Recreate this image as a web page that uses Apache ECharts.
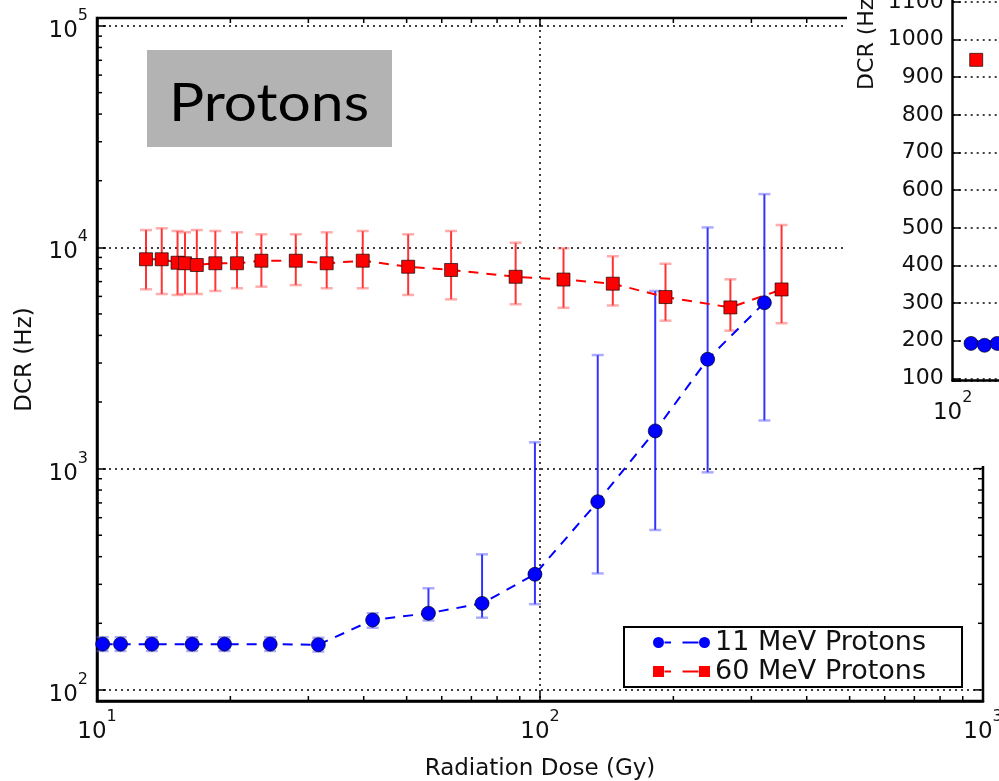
<!DOCTYPE html>
<html><head><meta charset="utf-8">
<script src="https://cdn.jsdelivr.net/npm/echarts@6/dist/echarts.min.js"></script>
<style>html,body{margin:0;padding:0;background:#fff}#c{width:999px;height:781px}</style>
</head><body><div id="c"></div>
<script>
// ---- data ----
const dose11 = [10.3, 11.3, 13.3, 16.4, 19.4, 24.6, 31.6, 41.9, 56.0, 74.0, 97.4, 135, 182, 239, 321];
const dcr11  = [161, 161, 161, 161, 161, 161, 160, 207, 222, 246, 333, 709, 1480, 3120, 5620];
const hi11   = [173, 173, 173, 173, 173, 173, 172, 222, 288, 410, 1315, 3260, 6350, 12300, 17400];
const lo11   = [150, 150, 150, 150, 150, 150, 149, 191, 206, 212, 244, 336, 528, 962, 1650];

const dose60 = [12.9, 14.0, 15.2, 15.8, 16.8, 18.5, 20.7, 23.5, 28.1, 33.0, 39.8, 50.4, 63.0, 88.1, 113, 146, 192, 269, 351];
const dcr60  = [8830, 8830, 8520, 8470, 8320, 8470, 8470, 8700, 8700, 8470, 8700, 8170, 7900, 7360, 7150, 6850, 5960, 5350, 6450];
const hi60   = [11970, 12190, 11850, 11690, 11970, 11850, 11690, 11450, 11450, 11690, 11850, 11450, 11850, 10490, 9900, 9110, 8430, 7170, 12610];
const lo60   = [6460, 6150, 6090, 6150, 6150, 6350, 6530, 6640, 6750, 6530, 6530, 6090, 5820, 5530, 5330, 5460, 4660, 4200, 4540];

// inset (partly visible)
const insetDose11 = [110, 118, 126];
const insetDcr11  = [193, 188, 193];
const insetDose60 = [113];
const insetDcr60  = [946];

// tick values
const xMajor = [10, 100, 1000];
const yMajor = [100, 1000, 10000, 100000];
const xMinor = [20, 30, 40, 50, 60, 70, 80, 90, 200, 300, 400, 500, 600, 700, 800, 900];
const yMinor = [200, 300, 400, 500, 600, 700, 800, 900, 2000, 3000, 4000, 5000, 6000, 7000, 8000, 9000, 20000, 30000, 40000, 50000, 60000, 70000, 80000, 90000];

const name11 = '11 MeV Protons';
const name60 = '60 MeV Protons';

// ---- helpers ----
const FONT = 'DejaVu Sans';
function powFmt(v) {
  const l = Math.log10(v); const e = Math.round(l);
  if (Math.abs(l - e) > 1e-6) return '';
  return '{a|10}{s|' + e + '}';
}
const richPow = {
  a: {fontFamily: FONT, fontSize: 23, color: '#111'},
  s: {fontFamily: FONT, fontSize: 16, color: '#111', padding: [0, 0, 30, 0]}
};
function errRender(color, capColor) {
  return function (params, api) {
    const x = api.value(0);
    const p1 = api.coord([x, api.value(1)]);
    const p2 = api.coord([x, api.value(2)]);
    const cw = 6;
    return {type: 'group', children: [
      {type: 'line', shape: {x1: p1[0], y1: p1[1], x2: p2[0], y2: p2[1]}, style: {stroke: color, lineWidth: 2}},
      {type: 'line', shape: {x1: p1[0] - cw, y1: p1[1], x2: p1[0] + cw, y2: p1[1]}, style: {stroke: capColor, lineWidth: 2.5}},
      {type: 'line', shape: {x1: p2[0] - cw, y1: p2[1], x2: p2[0] + cw, y2: p2[1]}, style: {stroke: capColor, lineWidth: 2.5}}
    ]};
  };
}
function tickRender(params, api) {
  const cs = params.coordSys;
  const L = cs.x, T = cs.y, R = cs.x + cs.width, B = cs.y + cs.height;
  const ch = [];
  const st = {stroke: '#000', lineWidth: 1.5};
  xMinor.forEach(v => {
    const px = api.coord([v, 1000])[0];
    ch.push({type: 'line', shape: {x1: px, y1: B, x2: px, y2: B - 5}, style: st});
    ch.push({type: 'line', shape: {x1: px, y1: T, x2: px, y2: T + 5}, style: st});
  });
  xMajor.forEach(v => {
    const px = api.coord([v, 1000])[0];
    ch.push({type: 'line', shape: {x1: px, y1: T, x2: px, y2: T + 9}, style: st});
  });
  yMinor.forEach(v => {
    const py = api.coord([100, v])[1];
    ch.push({type: 'line', shape: {x1: L, y1: py, x2: L + 5, y2: py}, style: st});
    ch.push({type: 'line', shape: {x1: R, y1: py, x2: R - 5, y2: py}, style: st});
  });
  yMajor.forEach(v => {
    const py = api.coord([100, v])[1];
    ch.push({type: 'line', shape: {x1: R, y1: py, x2: R - 9, y2: py}, style: st});
  });
  return {type: 'group', children: ch};
}

const circIcon = 'path://M0,5.5A5.5,5.5 0 1,1 11,5.5A5.5,5.5 0 1,1 0,5.5Z M11.5,4.5H18V6.5H11.5Z M29.5,4.5H45.5V6.5H29.5Z M46,5.5A5.5,5.5 0 1,1 57,5.5A5.5,5.5 0 1,1 46,5.5Z';
const sqIcon = 'path://M0,0H11V11H0Z M11.5,4.5H18V6.5H11.5Z M29.5,4.5H45.5V6.5H29.5Z M46,0H57V11H46Z';

const chart = echarts.init(document.getElementById('c'));
chart.setOption({
  animation: false,
  backgroundColor: '#fff',
  grid: [
    {left: 97, top: 18, width: 886, height: 683, show: true, backgroundColor: '#fff', borderColor: '#000', borderWidth: 2.5,
     containLabel: false, outerBoundsMode: 'none'},
    {left: 952.7, top: -17, width: 443, height: 397.7, show: false, containLabel: false, outerBoundsMode: 'none'}
  ],
  xAxis: [
    {type: 'log', logBase: 10, min: 10, max: 1000, gridIndex: 0,
     axisLine: {onZero: false, lineStyle: {color: '#000', width: 2.5}},
     axisTick: {inside: true, length: 9, lineStyle: {color: '#000', width: 1.5}},
     axisLabel: {margin: 8, formatter: powFmt, rich: richPow},
     splitLine: {show: true, lineStyle: {color: '#000', type: [2, 4], width: 1.5}},
     name: 'Radiation Dose (Gy)', nameLocation: 'middle', nameGap: 57,
     nameTextStyle: {fontFamily: FONT, fontSize: 23, color: '#111'}},
    {type: 'log', logBase: 10, min: 100, max: 1000, gridIndex: 1, z: 11,
     axisLine: {onZero: false, lineStyle: {color: '#000', width: 2.5}},
     axisTick: {show: false},
     axisLabel: {margin: 9, formatter: powFmt, rich: richPow},
     splitLine: {show: false}}
  ],
  yAxis: [
    {type: 'log', logBase: 10, min: 89.1, max: 108700, gridIndex: 0,
     axisLine: {onZero: false, lineStyle: {color: '#000', width: 2.5}},
     axisTick: {inside: true, length: 9, lineStyle: {color: '#000', width: 1.5}},
     axisLabel: {margin: 9, formatter: powFmt, rich: richPow, padding: [10, 0, 0, 0]},
     splitLine: {show: true, lineStyle: {color: '#000', type: [2, 4], width: 1.5}},
     name: 'DCR (Hz)', nameLocation: 'middle', nameGap: 60,
     nameTextStyle: {fontFamily: FONT, fontSize: 23, color: '#111'}},
    {type: 'value', min: 94, max: 1150, splitNumber: 10, minInterval: 100, maxInterval: 100, gridIndex: 1, z: 11,
     axisLine: {onZero: false, lineStyle: {color: '#000', width: 2.5}},
     axisTick: {inside: true, length: 8, lineStyle: {color: '#000', width: 1.5}},
     axisLabel: {margin: 9, fontFamily: FONT, fontSize: 22, color: '#111',
                 formatter: v => (Math.abs(v % 100) < 1e-6 ? String(v) : '')},
     splitLine: {show: true, lineStyle: {color: '#000', type: [2, 4], width: 1.5}}}
  ],
  legend: {
    orient: 'vertical', left: 624, top: 627, padding: [2, 36, 2, 29], itemGap: 2,
    itemWidth: 57, itemHeight: 11, backgroundColor: '#fff', borderColor: '#000', borderWidth: 2, borderRadius: 0,
    selectedMode: false, z: 6,
    textStyle: {fontFamily: FONT, fontSize: 27, color: '#111', lineHeight: 27},
    itemStyle: {borderWidth: 0},
    data: [{name: name11, icon: circIcon}, {name: name60, icon: sqIcon}]
  },
  graphic: [
    {type: 'rect', shape: {x: 147, y: 50, width: 245, height: 97}, style: {fill: '#b3b3b3'}, z: 5},
    {type: 'text', x: 269, y: 104, z: 6, scaleX: 1.13,
     style: {text: 'Protons', font: '52px Lato', fill: '#000', textAlign: 'center', textVerticalAlign: 'middle'}},
    {type: 'rect', shape: {x: 847, y: 0, width: 152, height: 466}, style: {fill: '#fff'}, z: 10},
    {type: 'text', x: 867.5, y: 40, rotation: Math.PI / 2, z: 12,
     style: {text: 'DCR (Hz)', font: '22px "DejaVu Sans"', fill: '#111', textAlign: 'center', textVerticalAlign: 'middle'}}
  ],
  series: [
    {type: 'custom', name: 'ticks', xAxisIndex: 0, yAxisIndex: 0, z: 4, silent: true,
     data: [[100, 1000]], renderItem: tickRender},
    {type: 'custom', name: 'err11', xAxisIndex: 0, yAxisIndex: 0, z: 2, silent: true,
     encode: {x: 0, y: [1, 2]},
     data: dose11.map((v, i) => [v, lo11[i], hi11[i]]),
     renderItem: errRender('rgba(0,0,255,0.8)', 'rgba(90,90,255,0.5)')},
    {type: 'custom', name: 'err60', xAxisIndex: 0, yAxisIndex: 0, z: 2, silent: true,
     encode: {x: 0, y: [1, 2]},
     data: dose60.map((v, i) => [v, lo60[i], hi60[i]]),
     renderItem: errRender('rgba(255,0,0,0.8)', 'rgba(255,90,90,0.5)')},
    {type: 'line', name: name11, xAxisIndex: 0, yAxisIndex: 0, z: 3,
     data: dose11.map((v, i) => [v, dcr11[i]]),
     symbol: 'circle', symbolSize: 14,
     itemStyle: {color: '#0000ff', borderColor: 'rgba(0,0,0,0.65)', borderWidth: 1},
     lineStyle: {color: '#0000ff', width: 2, type: [10, 8]}},
    {type: 'line', name: name60, xAxisIndex: 0, yAxisIndex: 0, z: 3,
     data: dose60.map((v, i) => [v, dcr60[i]]),
     symbol: 'rect', symbolSize: 13,
     itemStyle: {color: '#ff0000', borderColor: 'rgba(0,0,0,0.65)', borderWidth: 1},
     lineStyle: {color: '#ff0000', width: 2, type: [10, 8]}},
    {type: 'line', name: 'inset11', xAxisIndex: 1, yAxisIndex: 1, z: 12,
     data: insetDose11.map((v, i) => [v, insetDcr11[i]]),
     symbol: 'circle', symbolSize: 14,
     itemStyle: {color: '#0000ff', borderColor: 'rgba(0,0,0,0.65)', borderWidth: 1},
     lineStyle: {color: '#0000ff', width: 2, type: [10, 8]}},
    {type: 'line', name: 'inset60', xAxisIndex: 1, yAxisIndex: 1, z: 12,
     data: insetDose60.map((v, i) => [v, insetDcr60[i]]),
     symbol: 'rect', symbolSize: 13,
     itemStyle: {color: '#ff0000', borderColor: 'rgba(0,0,0,0.65)', borderWidth: 1},
     lineStyle: {color: '#ff0000', width: 2, type: [10, 8]}}
  ]
});
</script></body></html>
